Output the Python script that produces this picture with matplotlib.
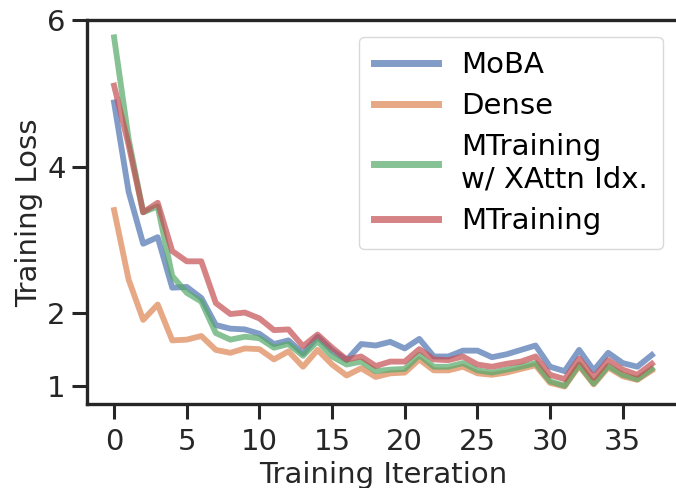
import matplotlib
matplotlib.use("Agg")
import matplotlib.pyplot as plt

# training loss curves
iters = list(range(38))
moba = [4.88, 3.66, 2.95, 3.04, 2.35, 2.36, 2.21, 1.84, 1.79, 1.78,
        1.72, 1.58, 1.63, 1.45, 1.68, 1.49, 1.36, 1.58, 1.56, 1.61,
        1.52, 1.65, 1.41, 1.41, 1.49, 1.49, 1.40, 1.44, 1.50, 1.56,
        1.27, 1.21, 1.50, 1.22, 1.46, 1.32, 1.27, 1.43]
dense = [3.41, 2.46, 1.91, 2.12, 1.63, 1.64, 1.69, 1.50, 1.46, 1.52,
         1.51, 1.37, 1.48, 1.27, 1.50, 1.30, 1.15, 1.25, 1.13, 1.18,
         1.19, 1.37, 1.22, 1.22, 1.27, 1.18, 1.16, 1.19, 1.24, 1.29,
         1.05, 1.00, 1.28, 1.03, 1.26, 1.14, 1.09, 1.22]
xattn = [5.77, 4.38, 3.38, 3.46, 2.51, 2.28, 2.16, 1.73, 1.64, 1.68,
         1.66, 1.53, 1.58, 1.42, 1.62, 1.41, 1.30, 1.34, 1.21, 1.23,
         1.24, 1.43, 1.27, 1.27, 1.32, 1.22, 1.19, 1.23, 1.27, 1.32,
         1.07, 1.01, 1.30, 1.04, 1.28, 1.16, 1.10, 1.24]
mtraining = [5.11, 4.30, 3.38, 3.51, 2.85, 2.71, 2.71, 2.14, 1.99, 2.01,
             1.93, 1.77, 1.78, 1.55, 1.71, 1.53, 1.37, 1.41, 1.28, 1.34,
             1.34, 1.51, 1.37, 1.36, 1.41, 1.30, 1.27, 1.31, 1.34, 1.41,
             1.16, 1.10, 1.38, 1.12, 1.36, 1.23, 1.16, 1.31]

labels = ["MoBA", "Dense", "MTraining\nw/ XAttn Idx.", "MTraining"]
colors = ["#4C72B0", "#DD8452", "#55A868", "#C44E52"]
yticks = [1, 2, 4, 6]
xticks = [0, 5, 10, 15, 20, 25, 30, 35]

plt.rcParams["font.family"] = "DejaVu Sans"
fig = plt.figure(figsize=(6.76, 4.88), dpi=100)
# right spine falls just outside the canvas, as in the cropped reference
ax = fig.add_axes([0.129, 0.172, 0.875, 0.786])

for series, lab, col in zip([moba, dense, xattn, mtraining], labels, colors):
    ax.plot(iters, series, color=col, lw=4.2, alpha=0.7, label=lab)

ax.set_xlim(-1.85, 38.85)
ax.set_ylim(0.76, 6.0)
ax.set_xticks(xticks)
ax.set_yticks(yticks)
ax.tick_params(labelsize=21, length=10.5, width=2.2,
               color="#262626", labelcolor="#262626")
ax.tick_params(axis="x", pad=7)
ax.tick_params(axis="y", pad=5)
for s in ax.spines.values():
    s.set_linewidth(2.4)
    s.set_color("#262626")

ax.set_xlabel("Training Iteration", fontsize=21, color="#262626", labelpad=3)
ax.set_ylabel("Training Loss", fontsize=21, color="#262626", labelpad=3)

leg = ax.legend(loc="upper right", fontsize=21, handlelength=2.2, borderaxespad=0.55,
                labelspacing=0.45, handletextpad=0.8, borderpad=0.5,
                fancybox=True, framealpha=1.0, edgecolor="#d9d9d9")
for h in leg.get_lines():
    h.set_linewidth(5)

fig.savefig("out.png", dpi=100)
